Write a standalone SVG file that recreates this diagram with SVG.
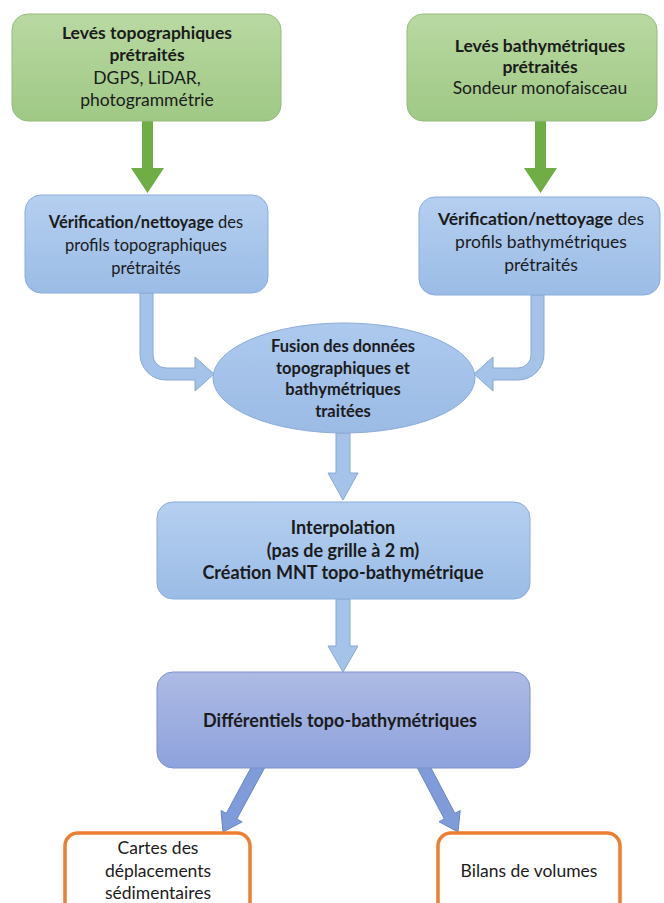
<svg xmlns="http://www.w3.org/2000/svg" width="664" height="903" viewBox="0 0 664 903">
<defs>
<linearGradient id="gGreen" x1="0" y1="0" x2="0" y2="1">
<stop offset="0" stop-color="#b9d9a2"/><stop offset="1" stop-color="#9fc885"/>
</linearGradient>
<linearGradient id="gBlue" x1="0" y1="0" x2="0" y2="1">
<stop offset="0" stop-color="#b5cff0"/><stop offset="1" stop-color="#9bbce6"/>
</linearGradient>
<linearGradient id="gEll" x1="0" y1="0" x2="0" y2="1">
<stop offset="0" stop-color="#adc9ee"/><stop offset="1" stop-color="#9bbbe5"/>
</linearGradient>
<linearGradient id="gDiff" x1="0" y1="0" x2="0" y2="1">
<stop offset="0" stop-color="#adbae4"/><stop offset="1" stop-color="#8ea2dc"/>
</linearGradient>
<style>
text{font-family:Lato,"Open Sans","Liberation Sans",sans-serif;fill:#1b1b1b;text-anchor:middle}
.b{font-weight:bold}
.green{fill:url(#gGreen);stroke:#95bb7c;stroke-width:1}
.blue{fill:url(#gBlue);stroke:#8cacda;stroke-width:1}
.ell{fill:url(#gEll);stroke:#8cacda;stroke-width:1}
.diff{fill:url(#gDiff);stroke:#7d92cf;stroke-width:1}
.orange{fill:#ffffff;stroke:#ed7d31;stroke-width:3.5}
.ga{fill:#70ad47}
.ba{fill:#a5c3e9;stroke:#86a8d6;stroke-width:1}
.da{fill:#7f9bd9;stroke:#6a86c6;stroke-width:1}
</style>
</defs>
<rect width="664" height="903" fill="#ffffff"/>
<g id="connectors">
<path class="ga" d="M142,121 L153,121 L153,168 L164,168 L147.5,193 L131,168 L142,168 Z"/>
<path class="ga" d="M535,121 L546,121 L546,168 L557,168 L540.5,193 L524,168 L535,168 Z"/>
<path class="ba" d="M140,293 L140,354 A26,26 0 0 0 166,380 L195,380 L195,391 L214,374 L195,357 L195,368 L166,368 A13,13 0 0 1 153,355 L153,293 Z"/>
<path class="ba" d="M544,295 L544,354 A26,26 0 0 1 518,380 L493,380 L493,391 L474,374 L493,357 L493,368 L518,368 A13,13 0 0 0 531,355 L531,295 Z"/>
<path class="ba" d="M336,433 L350,433 L350,473 L358,473 L343,500 L328,473 L336,473 Z"/>
<path class="ba" d="M336,599 L350,599 L350,646 L358,646 L343,672 L328,646 L336,646 Z"/>
<path class="da" d="M267.3,762.9 L236.8,819.0 L242.1,821.9 L223,832 L221.0,810.5 L226.3,813.3 L256.7,757.1 Z"/>
<path class="da" d="M425.3,757.2 L454.9,813.3 L460.2,810.5 L458,832 L439.0,821.7 L444.3,818.9 L414.7,762.8 Z"/>
</g>
<g id="n-topo-leves">
<rect class="green" x="12" y="14" width="269" height="107" rx="16"/>
<text font-size="17.5" x="147" y="39"><tspan class="b">Levés topographiques</tspan><tspan class="b" x="147" dy="22">prétraités</tspan><tspan x="147" dy="23">DGPS, LiDAR,</tspan><tspan x="147" dy="22">photogrammétrie</tspan></text>
</g>
<g id="n-bathy-leves">
<rect class="green" x="407" y="14" width="250" height="107" rx="16"/>
<text font-size="17.5" x="540" y="52"><tspan class="b">Levés bathymétriques</tspan><tspan class="b" x="540" dy="21">prétraités</tspan><tspan x="540" dy="21">Sondeur monofaisceau</tspan></text>
</g>
<g id="n-topo-verif">
<rect class="blue" x="25" y="195" width="243" height="98" rx="16"/>
<text font-size="16.5" x="146" y="228"><tspan class="b">Vérification/nettoyage</tspan> des<tspan x="146" dy="23">profils topographiques</tspan><tspan x="146" dy="23">prétraités</tspan></text>
</g>
<g id="n-bathy-verif">
<rect class="blue" x="419" y="197" width="241" height="98" rx="16"/>
<text font-size="17.5" x="541" y="225"><tspan class="b">Vérification/nettoyage</tspan> des<tspan x="541" dy="23">profils bathymétriques</tspan><tspan x="541" dy="23">prétraités</tspan></text>
</g>
<g id="n-fusion">
<ellipse class="ell" cx="344" cy="378" rx="131" ry="55"/>
<text class="b" font-size="16.5" x="343" y="352"><tspan>Fusion des données</tspan><tspan x="343" dy="21.5">topographiques et</tspan><tspan x="343" dy="21.5">bathymétriques</tspan><tspan x="343" dy="21.5">traitées</tspan></text>
</g>
<g id="n-interp">
<rect class="blue" x="157" y="502" width="373" height="97" rx="16"/>
<text class="b" font-size="18" x="343" y="534"><tspan>Interpolation</tspan><tspan x="343" dy="23">(pas de grille à 2 m)</tspan><tspan x="343" dy="22">Création MNT topo-bathymétrique</tspan></text>
</g>
<g id="n-diff">
<rect class="diff" x="157" y="672" width="373" height="96" rx="16"/>
<text class="b" font-size="18" x="340" y="727">Différentiels topo-bathymétriques</text>
</g>
<g id="n-cartes">
<rect class="orange" x="65" y="833" width="185" height="90" rx="13"/>
<text font-size="17.5" x="158" y="854"><tspan>Cartes des</tspan><tspan x="158" dy="23">déplacements</tspan><tspan x="158" dy="22">sédimentaires</tspan></text>
</g>
<g id="n-bilans">
<rect class="orange" x="438" y="833" width="182" height="90" rx="13"/>
<text font-size="17.5" x="529" y="877">Bilans de volumes</text>
</g>
</svg>
